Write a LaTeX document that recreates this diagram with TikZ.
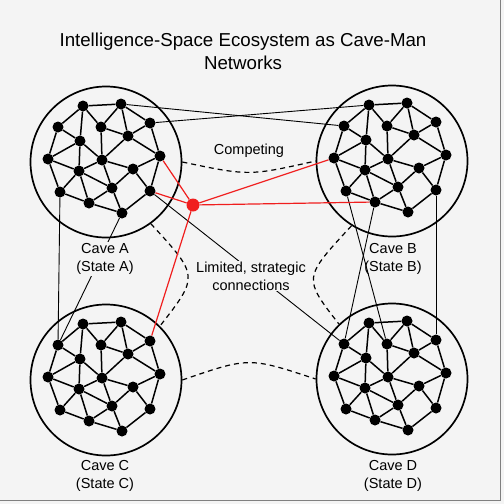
\documentclass[tikz,border=0pt]{standalone}
\usepackage{fontspec}
\setmainfont{Liberation Sans}
\begin{document}
\begin{tikzpicture}[x=1pt, y=-1pt,
    dot/.style={circle, fill=black, inner sep=0pt, minimum size=11pt},
    cavering/.style={circle, draw=black, line width=1.7pt, inner sep=0pt, minimum size=151pt},
    link/.style={line width=1.5pt},
    bridge/.style={line width=0.9pt},
    redlink/.style={draw=hubRed, line width=1.2pt},
    rivalry/.style={line width=1.2pt, dash pattern=on 5pt off 4pt},
    lbl/.style={font=\fontsize{14.5}{18}\selectfont, align=center, inner sep=1pt}]
    % Define colours
    \definecolor{bgColour}{HTML}{F4F4F4}
    \definecolor{hubRed}{HTML}{F01E1E}

    % Page and frame
    \useasboundingbox (0,0) rectangle (504,504);
    \fill[bgColour] (0,0) rectangle (504,504);
    \draw[gray, line width=1.5pt] (500.5,0) -- (500.5,500.5) -- (0,500.5);

    % Draw the four caves (same node layout in each)
    \foreach \cave/\cx/\cy in {A/106/162, B/392/161, C/106/380, D/392/379} {
        \node[cavering] (cave\cave) at (\cx,\cy) {};
        \foreach \i/\dx/\dy in {1/-23/-56, 2/15/-58, 3/-48/-35, 4/-5/-35, 5/44/-39,
                6/-26/-21, 7/22/-26, 8/-58/-3, 9/-4/-2, 10/54/-6, 11/-27/9,
                12/27/7, 13/-46/30, 14/6/26, 15/44/29, 16/-17/41, 17/16/51}
            \node[dot] (\cave\i) at (\cx+\dx,\cy+\dy) {};
        \foreach \a/\b in {1/2, 1/3, 1/4, 1/6, 2/4, 2/5, 2/7, 3/6, 3/8, 4/7, 4/9,
                5/7, 5/10, 6/8, 6/9, 6/11, 7/9, 7/10, 8/11, 8/13, 9/11, 9/12,
                9/14, 10/12, 10/15, 11/13, 11/14, 11/16, 12/14, 12/15, 13/16,
                14/16, 14/17, 15/17, 16/17}
            \draw[link] (\cave\a) -- (\cave\b);
    }

    % Links between caves
    \draw[bridge] (A2) -- (B3);
    \draw[bridge] (A5) -- (B1);
    \draw[bridge] (A13) -- (C3);
    \draw[bridge] (A17) -- (C3);
    \draw[bridge] (B13) -- (D4);
    \draw[bridge] (B16) -- (D3);
    \draw[bridge] (B15) -- (D5);
    \draw[bridge] (A15) -- (D3);

    % Competition arcs
    \draw[rivalry] (caveA.east) .. controls (249,176) .. (caveB.west);
    \draw[rivalry] (caveA.-54) .. controls (199,276) .. (caveC.45);
    \draw[rivalry] (caveB.-122) .. controls (303,278) .. (caveD.134);
    \draw[rivalry] (caveC.east) .. controls (249,357) .. (caveD.west);

    % Red hub and its links
    \node[circle, fill=hubRed, inner sep=0pt, minimum size=13pt] (hub) at (193,205) {};
    \foreach \t in {A10, A15, B8, B16, C5}
        \draw[redlink] (hub) -- (\t);

    % Labels
    \node[lbl, fill=bgColour] (labA) at (105,259) {Cave A\\(State A)};
    \node[lbl] (labB) at (393,259) {Cave B\\(State B)};
    \node[lbl] (labC) at (105,476) {Cave C\\(State C)};
    \node[lbl] (labD) at (393,476) {Cave D\\(State D)};
    \node[lbl] (compete) at (249,151) {Competing};
    \node[lbl, fill=bgColour] (limited) at (251,276) {Limited, strategic\\connections};

    % Title
    \node[align=center, font=\fontsize{18.7}{23}\selectfont] (title) at (243,51)
        {Intelligence-Space Ecosystem as Cave-Man\\Networks};

\end{tikzpicture}
\end{document}
